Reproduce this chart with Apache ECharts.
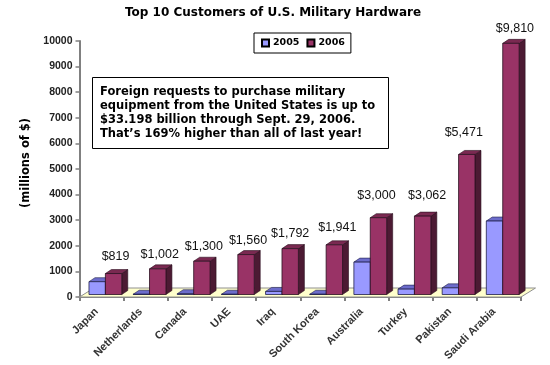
<!DOCTYPE html>
<html><head><meta charset="utf-8">
<style>html,body{margin:0;padding:0;background:#fff}#c{width:550px;height:365px}</style>
<script src="https://cdn.jsdelivr.net/npm/echarts@6/dist/echarts.min.js"></script>
</head><body><div id="c"></div>
<script>
const categories = ['Japan','Netherlands','Canada','UAE','Iraq','South Korea','Australia','Turkey','Pakistan','Saudi Arabia'];
const values2005 = [500,10,30,10,120,10,1265,210,260,2870];
const values2006 = [819,1002,1300,1560,1792,1941,3000,3062,5471,9810];
const yTicks = {min:0,max:10000,interval:1000};
const titleText = 'Top 10 Customers of U.S. Military Hardware';
const noteLines = ['Foreign requests to purchase military','equipment from the United States is up to','$33.198 billion through Sept. 29, 2006.','That\u2019s 169% higher than all of last year!'];
// hand-placed label nudges (px) as in the reference
const labelDx = [2,2,2,2,0,3,-2,4.5,-3,4];
const labelDy = [-17,-14,-14.5,-14,-15.5,-17.5,-22,-21,-22,-15];

const sideDx=6, sideDy=-4, shiftX=3.8, shiftY=-2.5, barW=16.4;
const colors={
 '2005':{front:'#9999FF',top:'#6C6CCB',side:'#4D4D99',line:'#20204a'},
 '2006':{front:'#993366',top:'#7A2951',side:'#4C1A33',line:'#2a0f1f'}
};
function bar3d(name,isSecond){
  const c=colors[name];
  return function(params,api){
    const i=api.value(0), v=api.value(1);
    const base=api.coord([i,0]), top=api.coord([i,v]);
    const cx=base[0]+shiftX;
    const x0=isSecond?cx:cx-barW, x1=x0+barW;
    const yb=base[1]+shiftY, yt=top[1]+shiftY;
    const children=[
      {type:'polygon',shape:{points:[[x1,yb],[x1+sideDx,yb+sideDy],[x1+sideDx,yt+sideDy],[x1,yt]]},style:{fill:c.side,stroke:c.line,lineWidth:0.6}},
      {type:'polygon',shape:{points:[[x0,yt],[x1,yt],[x1+sideDx,yt+sideDy],[x0+sideDx,yt+sideDy]]},style:{fill:c.top,stroke:c.line,lineWidth:0.6}},
      {type:'rect',shape:{x:x0,y:yt,width:barW,height:yb-yt},style:{fill:c.front,stroke:c.line,lineWidth:0.8}}
    ];
    if(isSecond){
      children.push({type:'text',style:{text:'$'+v.toLocaleString('en-US'),x:(x0+x1)/2+labelDx[i],y:yt+labelDy[i],align:'center',verticalAlign:'middle',font:'12.5px "Liberation Sans"',fill:'#111'}});
    }
    return {type:'group',children};
  };
}
const chart=echarts.init(document.getElementById('c'),null,{renderer:'canvas'});
chart.setOption({
  animation:false,
  backgroundColor:'#fff',
  title:{text:titleText,left:125,top:7,padding:0,textStyle:{fontFamily:'DejaVu Sans',fontSize:12,fontWeight:'bold',color:'#000'}},
  legend:{left:254,top:33,padding:[5,6,5,7],itemWidth:7,itemHeight:7,itemGap:7,icon:'rect',borderColor:'#000',borderWidth:1,backgroundColor:'#fff',
    textStyle:{fontFamily:'DejaVu Sans',fontWeight:'bold',fontSize:9.5,color:'#000',padding:[0,0,0,-1]},data:['2005','2006']},
  grid:{left:79.5,right:29,top:41,bottom:68},
  xAxis:{type:'category',data:categories,
    axisLine:{lineStyle:{color:'#808080',width:2}},
    axisTick:{show:true,length:4,lineStyle:{color:'#808080',width:2}},
    axisLabel:{rotate:45,interval:0,margin:8,padding:[0,7,0,0],fontFamily:'Liberation Sans',fontSize:11,color:'#333',fontWeight:'bold'}},
  yAxis:{type:'value',min:yTicks.min,max:yTicks.max,interval:yTicks.interval,
    name:'(millions of $)',nameLocation:'middle',nameGap:47,nameTextStyle:{fontFamily:'DejaVu Sans',fontWeight:'bold',fontSize:11.5,color:'#000',padding:[0,0,0,12]},
    axisLine:{show:true,lineStyle:{color:'#808080',width:2}},
    axisTick:{show:true,length:4,lineStyle:{color:'#808080',width:1.5}},
    splitLine:{show:false},
    axisLabel:{margin:7,formatter:v=>String(v),fontFamily:'Liberation Sans',fontSize:10.5,color:'#222',fontWeight:'bold'}},
  series:[
    {name:'floor',type:'custom',data:[[0,0]],z:1,silent:true,clip:false,encode:{x:0,y:1},
     renderItem(p,api){
       const a=api.coord([0,0]), b=api.coord([categories.length-1,0]), w=api.size([1,0])[0];
       const l=a[0]-w/2, r=b[0]+w/2, y=a[1];
       return {type:'polygon',shape:{points:[[l,y],[r,y],[r+14.5,y-9],[l+14.5,y-9]]},style:{fill:'#FFFFCC',stroke:'#909090',lineWidth:1}};
     }},
    {name:'2005',type:'custom',z:3,clip:false,data:values2005.map((v,i)=>[i,v]),encode:{x:0,y:1},itemStyle:{color:colors['2005'].front,borderColor:'#000',borderWidth:1},renderItem:bar3d('2005',false)},
    {name:'2006',type:'custom',z:4,clip:false,data:values2006.map((v,i)=>[i,v]),encode:{x:0,y:1},itemStyle:{color:colors['2006'].front,borderColor:'#000',borderWidth:1},renderItem:bar3d('2006',true)}
  ],
  graphic:[{type:'group',left:92,top:77,z:10,children:[
    {type:'rect',shape:{x:0.5,y:0.5,width:296,height:71},style:{fill:'#fff',stroke:'#000',lineWidth:1}},
    {type:'text',style:{x:8,y:8,text:noteLines.join('\n'),font:'bold 11.5px "DejaVu Sans"',lineHeight:14,fill:'#000'}}
  ]}]
});
</script></body></html>
